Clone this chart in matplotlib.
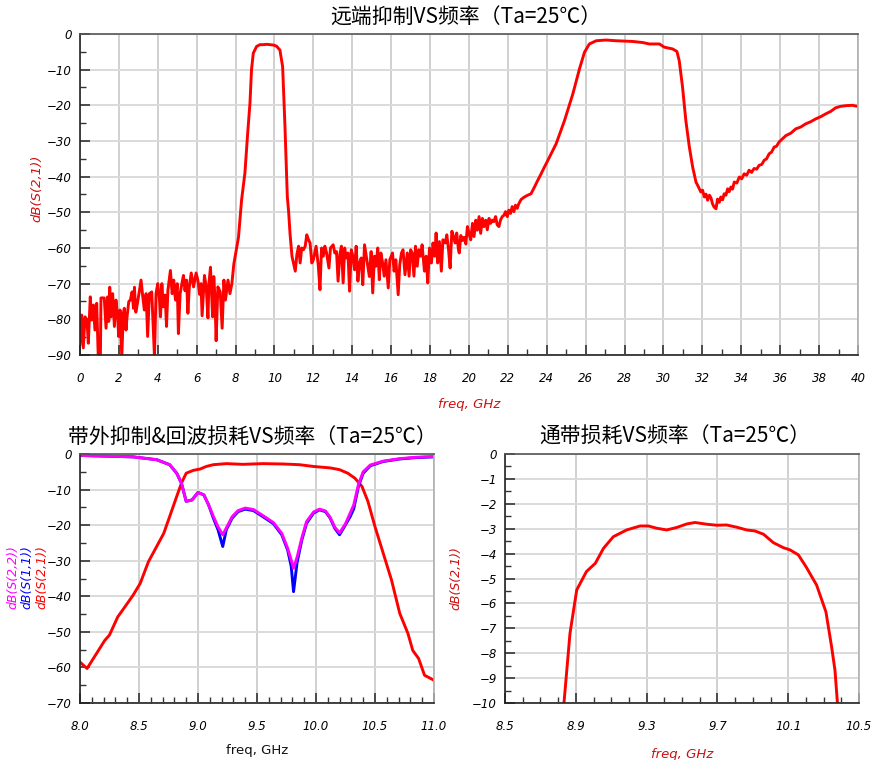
import numpy as np
import matplotlib.pyplot as plt
from matplotlib.ticker import MultipleLocator, FixedLocator

plt.rcParams['font.family'] = ['Noto Sans CJK SC', 'DejaVu Sans']

# ---- top chart: wideband S21 (0-40 GHz) ----
top_freq = [
    0.00, 0.09, 0.17, 0.26, 0.36, 0.43, 0.53, 0.60, 0.69, 0.77, 0.86, 0.94, 1.05, 1.08, 1.25,
    1.34, 1.42, 1.48, 1.53, 1.60, 1.68, 1.77, 1.85, 1.94, 1.99, 2.06, 2.15, 2.23, 2.28, 2.37,
    2.42, 2.51, 2.59, 2.68, 2.75, 2.80, 2.87, 2.97, 3.06, 3.14, 3.23, 3.31, 3.40, 3.48, 3.57,
    3.69, 3.83, 3.91, 4.00, 4.09, 4.14, 4.21, 4.29, 4.38, 4.45, 4.52, 4.65, 4.74, 4.82, 4.91,
    5.00, 5.06, 5.15, 5.24, 5.32, 5.40, 5.48, 5.55, 5.62, 5.72, 5.84, 5.97, 6.06, 6.15, 6.22,
    6.28, 6.40, 6.49, 6.58, 6.63, 6.71, 6.76, 6.82, 6.88, 6.94, 7.00, 7.09, 7.21, 7.31, 7.40,
    7.48, 7.61, 7.71, 7.81, 7.91, 8.03, 8.15, 8.31, 8.48, 8.62, 8.74, 8.82, 8.91, 9.08, 9.25,
    9.42, 9.60, 9.80, 9.94, 10.10, 10.28, 10.42, 10.54, 10.66, 10.73, 10.80, 10.90, 11.07,
    11.15, 11.24, 11.32, 11.40, 11.49, 11.58, 11.66, 11.75, 11.83, 11.92, 12.00, 12.14, 12.25,
    12.34, 12.42, 12.51, 12.59, 12.68, 12.80, 12.88, 13.02, 13.10, 13.19, 13.27, 13.36, 13.44,
    13.53, 13.61, 13.69, 13.78, 13.86, 13.95, 14.03, 14.12, 14.20, 14.29, 14.37, 14.46, 14.54,
    14.63, 14.75, 14.88, 14.97, 15.05, 15.14, 15.22, 15.31, 15.39, 15.47, 15.56, 15.64, 15.73,
    15.85, 15.93, 16.07, 16.15, 16.24, 16.36, 16.44, 16.53, 16.61, 16.71, 16.83, 16.92, 17.00,
    17.08, 17.17, 17.25, 17.34, 17.42, 17.51, 17.59, 17.71, 17.80, 17.88, 17.97, 18.07, 18.15,
    18.24, 18.31, 18.39, 18.48, 18.58, 18.66, 18.78, 18.86, 18.95, 19.03, 19.12, 19.20, 19.29,
    19.37, 19.46, 19.50, 19.58, 19.67, 19.75, 19.84, 19.92, 20.00, 20.09, 20.18, 20.26, 20.35,
    20.43, 20.52, 20.60, 20.69, 20.77, 20.86, 20.94, 21.03, 21.11, 21.20, 21.28, 21.37, 21.45,
    21.54, 21.62, 21.71, 21.80, 21.88, 21.97, 22.05, 22.14, 22.22, 22.31, 22.39, 22.48, 22.56,
    22.68, 22.85, 23.02, 23.19, 23.36, 23.53, 23.70, 23.87, 24.04, 24.48, 24.91, 25.34, 25.68,
    25.94, 26.19, 26.54, 27.05, 27.56, 28.42, 28.93, 29.27, 29.79, 30.04, 30.47, 30.69, 30.81,
    30.98, 31.15, 31.33, 31.50, 31.67, 31.80, 31.92, 32.01, 32.10, 32.19, 32.27, 32.36, 32.44,
    32.52, 32.60, 32.70, 32.78, 32.87, 32.95, 33.04, 33.12, 33.21, 33.30, 33.38, 33.47, 33.55,
    33.64, 33.77, 33.90, 34.02, 34.15, 34.28, 34.40, 34.53, 34.66, 34.79, 34.92, 35.05, 35.18,
    35.30, 35.43, 35.56, 35.69, 35.81, 35.94, 36.29, 36.55, 36.80, 37.05, 37.31, 37.57, 37.83,
    38.08, 38.34, 38.60, 38.85, 39.10, 39.37, 39.70, 40.00,
]
top_db = [
    -87, -78.8, -88, -79.3, -80.2, -86.7, -73.7, -80.2, -76, -83, -75.5, -90.5, -90.5, -74, -74,
    -82.5, -73.7, -80.6, -71, -79.3, -72.8, -82, -74.6, -79.3, -84.8, -77.4, -90.5, -78.3, -76.9, -83,
    -79.3, -75, -74.6, -72.3, -76.9, -71, -78, -75, -71.9, -69, -73.7, -77.4, -72.8, -84.8, -72.8,
    -72.3, -90.5, -72.8, -70, -74.6, -79.3, -70, -76.5, -73.2, -82, -71.9, -66.3, -72.8, -69, -74.6,
    -70, -84, -72.8, -70, -67.7, -72, -69, -78.3, -71, -67, -70.9, -67, -69, -73, -70,
    -79, -67.7, -70.9, -79.6, -70, -65.4, -72, -79.3, -68, -74, -86, -70.9, -72.3, -82.5, -69,
    -74.6, -69, -72.8, -70, -64.5, -60.7, -57, -46.5, -39, -28, -19.4, -10, -5.4, -3.5, -3.0,
    -3.0, -2.9, -3.0, -3.1, -3.4, -4.5, -9.2, -26, -45.6, -50, -56, -62.3, -66.5,
    -61.9, -59.5, -64.2, -60, -60.5, -59.5, -56.3, -57.7, -58.6, -64.2, -63.3, -59.5, -64.7,
    -71.7, -60, -62.3, -59.5, -61.4, -65.6, -60, -59.1, -61.4, -61, -69.3, -61.9, -59.5,
    -69.8, -60, -62.8, -61.4, -72.1, -60.5, -62.3, -66.1, -59.5, -69.3, -64.2, -62.8, -70.3,
    -59.1, -63.3, -68, -61, -72.6, -62.3, -65.1, -60, -68.9, -61.4, -64.2, -67.9, -63.3,
    -71.2, -63.3, -61.4, -66.5, -63.3, -73.1, -64.7, -61.4, -60.5, -67.5, -61.4, -67.9, -60.5,
    -61.4, -67.9, -59.5, -65.1, -60.5, -62.3, -59.1, -66.5, -62.3, -69.8, -60, -64.2, -58.6,
    -62.3, -55.8, -64.2, -58.2, -66.5, -57.7, -58.6, -56.3, -60.5, -65.6, -55.3, -56.7, -58.6,
    -55.8, -60.5, -61.4, -56.5, -57.9, -57, -58.9, -54, -55.9, -57.7, -53.1, -56.8, -52.2,
    -55, -51.2, -55.9, -51.7, -54, -52.2, -54.9, -51.7, -53.1, -52.2, -52.6, -51.2, -53.5,
    -54, -52.2, -51.2, -50.8, -49.8, -51.2, -49.4, -50.3, -48.4, -49.8, -48, -48.9, -47.6,
    -46.4, -45.7, -45.2, -44.8, -43, -41.1, -39.3, -37.4, -35.6, -30.8, -24.3, -16.8, -9.8,
    -5.1, -2.8, -1.9, -1.7, -1.9, -2.1, -2.4, -2.8, -2.8, -3.7, -4.2, -4.9, -7.5,
    -14.9, -24.3, -31.7, -37.3, -41.5, -42.9, -44.3, -43.8, -45.7, -44.9, -46.6, -45.2, -45.9,
    -47.6, -48.5, -49, -46.3, -47.2, -45.7, -46.5, -44.8, -45.2, -43.4, -44.2, -42.9, -43.5,
    -41.5, -41.8, -40.1, -40.6, -39.2, -39.6, -38.2, -38.8, -37.7, -37.9, -36.8, -36.6, -35.4,
    -35.0, -33.6, -33.1, -31.7, -31.5, -30.3, -28.5, -27.8, -26.6, -26.1, -25.2, -24.6, -23.8,
    -23.2, -22.4, -21.7, -20.7, -20.3, -20.1, -20.0, -20.3,
]

# ---- bottom left: S21 / S11 / S22 (8-11 GHz) ----
s21_freq = [8.00, 8.06, 8.14, 8.21, 8.25, 8.32, 8.38, 8.45, 8.51, 8.58, 8.65, 8.71, 8.76, 8.82,
            8.86, 8.90, 8.96, 9.02, 9.07, 9.13, 9.24, 9.38, 9.55, 9.72, 9.86, 9.98, 10.12, 10.20,
            10.27, 10.33, 10.39, 10.44, 10.50, 10.57, 10.64, 10.71, 10.78, 10.82, 10.87, 10.92, 11.00]
s21_db = [-58.5, -60.3, -56.1, -52.4, -50.9, -45.8, -43.0, -39.7, -36.4, -30.3, -26.0, -22.3, -17.6, -11.9,
          -8.2, -5.4, -4.6, -4.2, -3.5, -3.0, -2.7, -2.9, -2.7, -2.8, -3.0, -3.5, -3.9, -4.4,
          -5.4, -6.8, -9.1, -13.3, -20.4, -27.9, -35.4, -44.8, -50.5, -55.2, -57.5, -62.2, -63.6]

refl_freq = [8.00, 8.45, 8.65, 8.76, 8.82, 8.86, 8.90, 8.95, 9.00, 9.05, 9.09, 9.13, 9.17, 9.21,
             9.24, 9.29, 9.34, 9.40, 9.47, 9.55, 9.64, 9.71, 9.76, 9.79, 9.81, 9.84, 9.88, 9.92,
             9.98, 10.03, 10.08, 10.12, 10.16, 10.20, 10.25, 10.29, 10.32, 10.36, 10.40, 10.46,
             10.57, 10.71, 10.85, 11.00]
s11_db = [-0.4, -0.8, -1.6, -3.0, -5.4, -8.2, -13.3, -12.9, -10.8, -11.5, -14.3, -18.0, -21.3, -26.0,
          -21.3, -18.0, -16.2, -15.5, -15.9, -17.6, -19.6, -22.7, -27.0, -31.5, -38.7, -30.5, -24.2, -19.5,
          -16.6, -15.7, -16.2, -18.0, -20.9, -22.7, -19.9, -17.6, -15.4, -9.1, -5.4, -3.3,
          -2.1, -1.4, -1.0, -0.8]
s22_db = [-0.4, -0.8, -1.6, -3.0, -5.4, -8.2, -13.3, -12.9, -10.8, -11.5, -14.3, -17.5, -20.5, -22.7,
          -20.8, -17.6, -15.9, -15.2, -15.6, -17.3, -19.3, -22.3, -26.5, -29.8, -32.1, -29.0, -23.6, -19.0,
          -16.3, -15.5, -16.0, -17.8, -20.6, -22.2, -19.6, -16.6, -14.3, -8.6, -5.0, -3.1,
          -2.0, -1.3, -0.9, -0.7]

# ---- bottom right: passband insertion loss ----
pb_freq = [8.820, 8.833, 8.867, 8.905, 8.960, 9.010, 9.056, 9.112, 9.187, 9.263, 9.310, 9.357, 9.413,
           9.470, 9.526, 9.573, 9.640, 9.696, 9.752, 9.810, 9.865, 9.912, 9.960, 10.016, 10.072,
           10.110, 10.157, 10.200, 10.260, 10.313, 10.345, 10.364, 10.378, 10.385]
pb_db = [-11.0, -10.0, -7.2, -5.46, -4.72, -4.39, -3.79, -3.32, -3.05, -2.89, -2.89, -2.98, -3.05,
         -2.95, -2.81, -2.75, -2.82, -2.86, -2.85, -2.94, -3.05, -3.09, -3.22, -3.56, -3.76,
         -3.85, -4.05, -4.52, -5.26, -6.34, -7.74, -8.68, -10.0, -11.0]

RED = '#ff0000'
BLUE = '#0000ff'
MAGENTA = '#ff00ff'
TICK_FONT = dict(family='DejaVu Sans', style='italic', size=8.5)


def style_axes(ax):
    ax.grid(True, which='major', axis='x', color='#c4c4c4', lw=1.1)
    ax.grid(True, which='major', axis='y', color='#dadada', lw=1.4)
    ax.set_axisbelow(True)
    ax.spines['left'].set_color('#222222')
    ax.spines['bottom'].set_color('#222222')
    ax.spines['top'].set_color('#555555')
    ax.spines['right'].set_color('#b0b0b0')
    for s in ax.spines.values():
        s.set_linewidth(1.2)
    ax.tick_params(which='both', direction='in', top=False, right=False, color='#333333')
    ax.tick_params(which='major', length=7, width=1.2)
    ax.tick_params(which='minor', length=4, width=1.0)
    ax.tick_params(axis='x', pad=12)
    ax.tick_params(axis='y', pad=6)
    for lab in ax.get_xticklabels() + ax.get_yticklabels():
        lab.set(**TICK_FONT)


fig = plt.figure(figsize=(8.73, 7.6), dpi=100)

# top chart
ax1 = fig.add_axes([0.0916, 0.5329, 0.8912, 0.4224])
ax1.plot(top_freq, top_db, color=RED, lw=2.1, solid_joinstyle='round')
ax1.set_xlim(0, 40)
ax1.set_ylim(-90, 0)
ax1.xaxis.set_major_locator(MultipleLocator(2))
ax1.xaxis.set_minor_locator(MultipleLocator(1))
ax1.yaxis.set_major_locator(MultipleLocator(10))
ax1.yaxis.set_minor_locator(MultipleLocator(5))
style_axes(ax1)
ax1.set_xlabel('freq, GHz', color='#cc1111', family='DejaVu Sans', style='italic', size=9.5)
ax1.xaxis.set_label_coords(0.5, -0.135)
ax1.set_ylabel('dB(S(2,1))', color='#cc1111', family='DejaVu Sans', style='italic', size=9.5)
ax1.yaxis.set_label_coords(-0.047, 0.52)
fig.text(0.533, 0.977, '远端抑制VS频率（Ta=25℃）', ha='center', va='center', size=15)

# bottom left
ax2 = fig.add_axes([0.0916, 0.075, 0.4055, 0.3276])
ax2.plot(s21_freq, s21_db, color=RED, lw=2.1)
ax2.plot(refl_freq, s11_db, color=BLUE, lw=2.1)
ax2.plot(refl_freq, s22_db, color=MAGENTA, lw=2.1)
ax2.set_xlim(8, 11)
ax2.set_ylim(-70, 0)
ax2.xaxis.set_major_locator(MultipleLocator(0.5))
ax2.xaxis.set_minor_locator(MultipleLocator(0.1))
ax2.yaxis.set_major_locator(MultipleLocator(10))
ax2.yaxis.set_minor_locator(MultipleLocator(5))
ax2.xaxis.set_major_formatter(plt.FormatStrFormatter('%.1f'))
style_axes(ax2)
ax2.set_xlabel('freq, GHz', color='#111111', family='DejaVu Sans', size=9.5)
ax2.xaxis.set_label_coords(0.5, -0.165)
for xpos, txt, col in [(13, 'dB(S(2,2))', MAGENTA), (27, 'dB(S(1,1))', BLUE), (42, 'dB(S(2,1))', RED)]:
    fig.text(xpos / 873, 1 - 577 / 760, txt, rotation=90, ha='center', va='center',
             color=col, family='DejaVu Sans', style='italic', size=9)
fig.text(252 / 873, 1 - 437 / 760, '带外抑制&回波损耗VS频率（Ta=25℃）', ha='center', va='center', size=15)

# bottom right
ax3 = fig.add_axes([0.5785, 0.075, 0.4055, 0.3276])
ax3.plot(pb_freq, pb_db, color=RED, lw=2.1)
ax3.set_xlim(8.5, 10.5)
ax3.set_ylim(-10, 0)
ax3.xaxis.set_major_locator(FixedLocator([8.5, 8.9, 9.3, 9.7, 10.1, 10.5]))
ax3.xaxis.set_minor_locator(MultipleLocator(0.1))
ax3.yaxis.set_major_locator(MultipleLocator(1))
ax3.yaxis.set_minor_locator(MultipleLocator(0.5))
ax3.xaxis.set_major_formatter(plt.FormatStrFormatter('%g'))
style_axes(ax3)
ax3.set_xlabel('freq, GHz', color='#cc1111', family='DejaVu Sans', style='italic', size=9.5)
ax3.xaxis.set_label_coords(0.5, -0.18)
ax3.set_ylabel('dB(S(2,1))', color='#cc1111', family='DejaVu Sans', style='italic', size=9)
ax3.yaxis.set_label_coords(-0.12, 0.5)
fig.text(675 / 873, 1 - 437 / 760, '通带损耗VS频率（Ta=25℃）', ha='center', va='center', size=15)

fig.savefig('out.png', dpi=100)
